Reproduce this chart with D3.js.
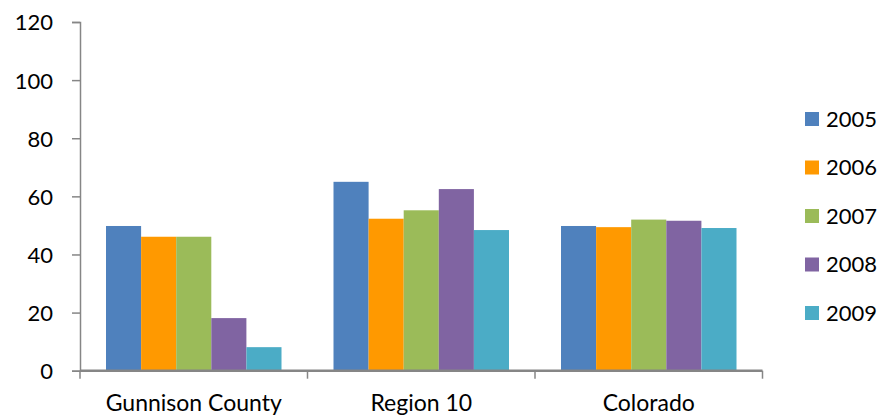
<!DOCTYPE html>
<html>
<head>
<meta charset="utf-8">
<script src="https://cdn.jsdelivr.net/npm/d3@7"></script>
<style>
  html, body { margin: 0; padding: 0; background: #fff; }
  svg text { font-family: Lato, "Open Sans", sans-serif; fill: #000; }
</style>
</head>
<body>
<svg id="chart" width="884" height="417"></svg>
<script>
// Chart data
const categories = ["Gunnison County", "Region 10", "Colorado"];
const years = ["2005", "2006", "2007", "2008", "2009"];
const values2005 = [49.8, 65.0, 49.8];
const values2006 = [46.1, 52.3, 49.4];
const values2007 = [46.1, 55.2, 52.0];
const values2008 = [18.1, 62.5, 51.6];
const values2009 = [8.1, 48.4, 49.1];
const yTicks = [0, 20, 40, 60, 80, 100, 120];
const colors = ["#4f81bd", "#ff9900", "#9bbb59", "#8064a2", "#4bacc6"];

const seriesValues = [values2005, values2006, values2007, values2008, values2009];

const svg = d3.select("#chart");
const plotLeft = 80, plotRight = 762.5, plotTop = 22, plotBottom = 370.7;

const y = d3.scaleLinear().domain([0, 120]).range([plotBottom, plotTop]);
const x0 = d3.scaleBand().domain(categories).range([plotLeft, plotRight]).paddingInner(0).paddingOuter(0);
const x1 = d3.scaleBand().domain(years).range([26, x0.bandwidth() - 26]).padding(0);

// Bars
const groups = svg.append("g").selectAll("g")
  .data(categories)
  .join("g")
  .attr("transform", d => `translate(${x0(d)},0)`);

groups.selectAll("rect")
  .data((d, i) => years.map((yr, s) => ({ yr, s, v: seriesValues[s][i] })))
  .join("rect")
  .attr("x", d => x1(d.yr))
  .attr("y", d => y(d.v))
  .attr("width", x1.bandwidth())
  .attr("height", d => plotBottom - y(d.v))
  .attr("fill", d => colors[d.s]);

// Y axis
const yAxis = svg.append("g")
  .attr("transform", `translate(${plotLeft},0)`)
  .call(d3.axisLeft(y).tickValues(yTicks).tickSize(8).tickPadding(19));
yAxis.selectAll("path, line").attr("stroke", "#868686").attr("stroke-width", 1.5);
yAxis.selectAll("text").style("font-size", "22px").attr("dy", "0.36em");

// X axis
const xAxis = svg.append("g")
  .attr("transform", `translate(0,${plotBottom})`)
  .call(d3.axisBottom(x0).tickSize(0));
xAxis.select("path").attr("stroke", "#868686").attr("stroke-width", 2.5).attr("d", `M${plotLeft},0H${plotRight}`);
xAxis.selectAll("text").style("font-size", "23px").attr("y", 40.5).attr("dy", 0);
// category separators
svg.append("g").selectAll("line")
  .data([plotLeft, ...categories.map(c => x0(c) + x0.bandwidth())])
  .join("line")
  .attr("x1", d => d).attr("x2", d => d)
  .attr("y1", plotBottom).attr("y2", plotBottom + 8)
  .attr("stroke", "#868686").attr("stroke-width", 1.5);

// Legend
const legend = svg.append("g").selectAll("g")
  .data(years)
  .join("g")
  .attr("transform", (d, i) => `translate(805,${119 + i * 48.5})`);
legend.append("rect").attr("x", 0).attr("y", -7).attr("width", 14).attr("height", 14)
  .attr("fill", (d, i) => colors[i]);
legend.append("text").attr("x", 21).attr("dy", "0.36em").style("font-size", "22px").text(d => d);
</script>
</body>
</html>
